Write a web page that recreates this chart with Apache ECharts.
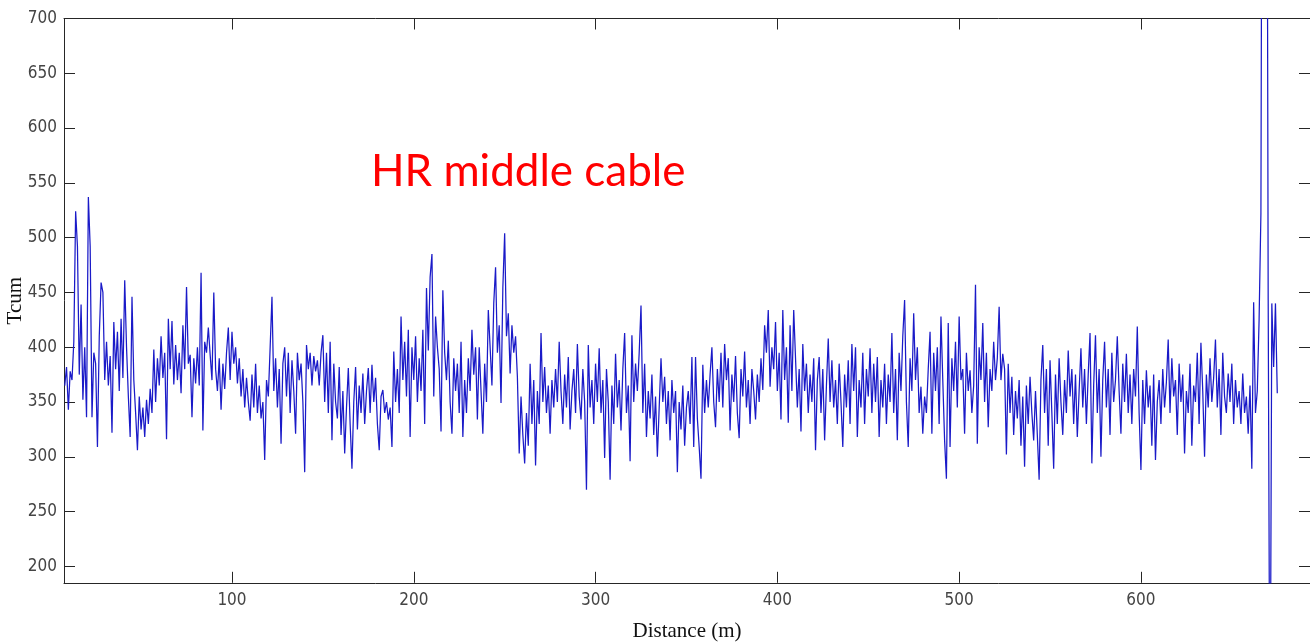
<!DOCTYPE html>
<html>
<head>
<meta charset="utf-8">
<script src="https://cdn.jsdelivr.net/npm/echarts@6/dist/echarts.min.js"></script>
<style>
html,body{margin:0;padding:0;background:#fff;}
#chart{width:1310px;height:642px;}
</style>
</head>
<body>
<div id="chart"></div>
<script>
// Distance sampling (m) of the trace
const startDistance = 8;
const stepDistance = 1;
// Tcum values, one per metre from 8 m
const tcum = [
365,382,343,378,370,405,524,492,375,439,
352,400,336,537,492,336,395,385,309,410,
459,450,370,405,365,392,322,423,380,414,
360,426,372,461,400,355,318,446,370,340,
306,355,325,345,318,352,330,362,340,398,
350,390,365,410,372,395,316,426,380,424,
366,402,370,395,358,420,380,455,385,393,
336,390,367,400,365,468,324,405,395,418,
393,370,450,380,360,390,343,385,362,395,
418,370,414,385,400,367,390,355,380,345,
372,350,333,375,345,385,340,365,335,350,
297,370,355,400,446,360,390,345,380,312,
385,400,355,395,340,388,360,321,395,370,
385,350,286,402,380,395,365,392,378,388,
365,395,411,350,395,340,405,315,385,350,
335,382,320,360,303,345,381,330,289,350,
382,325,365,340,376,330,360,381,340,384,
350,372,330,306,355,361,340,350,334,345,
309,396,350,380,340,428,370,405,355,416,
318,400,370,410,350,390,360,416,330,454,
397,464,485,355,428,400,380,323,452,395,
370,406,350,321,390,360,385,340,405,318,
370,340,390,360,416,375,400,334,400,360,
321,385,350,434,400,365,440,473,395,420,
349,454,504,410,431,376,420,395,410,373,
303,355,320,294,340,310,385,330,370,292,
360,330,413,350,382,340,365,321,370,345,
380,350,405,360,330,375,345,391,325,360,
380,340,403,355,334,380,350,270,402,345,
370,330,385,350,399,340,370,299,380,350,
279,365,330,394,345,370,324,380,413,340,
365,296,411,350,385,360,395,438,340,385,
318,360,335,375,320,355,300,345,390,350,
373,330,360,315,370,340,360,286,350,325,
365,310,345,360,330,391,309,391,335,309,
280,384,340,370,345,375,400,350,327,380,
350,395,345,403,370,390,324,375,350,392,
340,317,380,355,396,345,370,330,380,360,
334,375,350,390,361,420,395,434,364,400,
380,423,360,395,334,434,370,400,331,420,
360,434,390,345,380,323,403,360,385,340,
375,350,390,306,370,391,340,380,315,365,
408,350,388,345,370,330,385,350,309,375,
345,388,330,403,360,400,318,370,345,395,
330,380,355,399,340,385,350,391,318,370,
345,385,330,375,350,413,340,380,315,395,
360,410,443,350,309,390,360,431,370,400,
340,364,321,355,340,380,414,321,395,360,
400,330,428,370,315,280,422,309,390,360,
405,345,428,370,380,321,395,360,379,340,
365,457,312,400,370,422,350,395,327,380,
360,405,370,390,437,370,394,380,302,385,
340,373,320,360,335,370,310,355,291,365,
330,373,340,315,360,320,279,370,402,340,
380,310,388,340,289,375,330,390,350,320,
370,340,397,355,380,330,375,318,360,399,
345,380,330,375,413,294,365,411,340,380,
300,370,405,345,380,320,395,350,370,410,
360,321,385,350,394,340,375,330,380,355,
419,340,288,370,330,379,345,365,310,375,
297,350,370,330,380,345,368,407,340,390,
355,370,320,385,350,375,303,360,340,385,
310,365,350,395,330,404,360,300,375,345,
390,350,372,407,345,380,320,395,355,340,
376,350,385,330,370,345,360,330,376,340,
355,321,365,289,441,340,360,425,522,1200,
1200,1200,443,0,440,382,440,358
];
const xTicks = [100,200,300,400,500,600];
const yTicks = [200,250,300,350,400,450,500,550,600,650,700];
const xMin = 7.6, xMax = 693;
const yMin = 185, yMax = 700;
const titleText = 'HR middle cable';
const xName = 'Distance (m)';
const yName = 'Tcum';

const seriesData = tcum.map((v, i) => [startDistance + i * stepDistance, v]);

const labelFont = {fontFamily: '"DejaVu Sans Condensed", "Liberation Sans", sans-serif', fontSize: 17, color: '#444444'};
const axisLine = {show: true, onZero: false, lineStyle: {color: '#262626', width: 1}};
const tickStyle = {lineStyle: {color: '#262626', width: 1}};

const chart = echarts.init(document.getElementById('chart'), null, {renderer: 'canvas'});
chart.setOption({
  animation: false,
  backgroundColor: '#ffffff',
  grid: {left: 64, right: 0, top: 18.5, bottom: 59.2, containLabel: false, outerBoundsMode: 'none'},
  xAxis: [{
    type: 'value', position: 'bottom', min: xMin, max: xMax,
    axisLine: axisLine,
    axisTick: Object.assign({show: true, inside: true, length: 11, customValues: xTicks}, tickStyle),
    axisLabel: Object.assign({show: true, margin: 9, customValues: xTicks}, labelFont),
    splitLine: {show: false},
    name: xName, nameLocation: 'middle', nameGap: 38, nameMoveOverlap: false,
    nameTextStyle: {fontFamily: '"Liberation Serif", "Times New Roman", serif', fontSize: 21, color: '#111'}
  }, {
    type: 'value', position: 'top', min: xMin, max: xMax,
    axisLine: axisLine,
    axisTick: Object.assign({show: true, inside: true, length: 11, customValues: xTicks}, tickStyle),
    axisLabel: {show: false},
    splitLine: {show: false}
  }],
  yAxis: [{
    type: 'value', position: 'left', min: yMin, max: yMax,
    axisLine: axisLine,
    axisTick: Object.assign({show: true, inside: true, length: 11, customValues: yTicks}, tickStyle),
    axisLabel: Object.assign({show: true, margin: 7, customValues: yTicks}, labelFont),
    splitLine: {show: false},
    name: yName, nameLocation: 'middle', nameGap: 38, nameRotate: 90, nameMoveOverlap: false,
    nameTextStyle: {fontFamily: '"Liberation Serif", "Times New Roman", serif', fontSize: 21, color: '#111'}
  }, {
    type: 'value', position: 'right', min: yMin, max: yMax,
    axisLine: axisLine,
    axisTick: Object.assign({show: true, inside: true, length: 11, customValues: yTicks}, tickStyle),
    axisLabel: {show: false},
    splitLine: {show: false}
  }],
  graphic: [{
    type: 'text', left: 371, top: 150,
    style: {text: titleText, font: '44px Lato, "Noto Sans", sans-serif', fill: '#ff0000'}
  }],
  series: [{
    type: 'line', xAxisIndex: 0, yAxisIndex: 0,
    data: seriesData, showSymbol: false, symbol: 'none', clip: true,
    lineStyle: {color: '#1a1ac8', width: 1.25},
    emphasis: {disabled: true}
  }]
});
</script>
</body>
</html>
